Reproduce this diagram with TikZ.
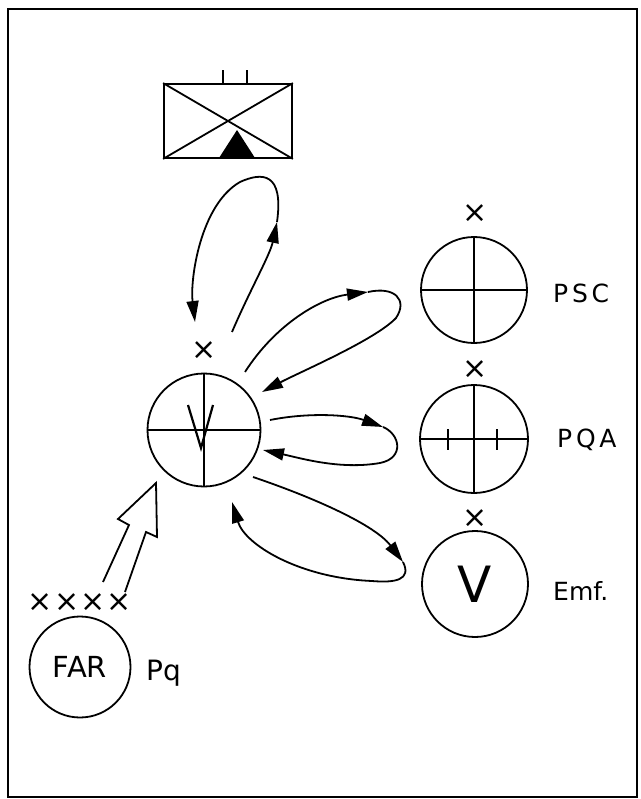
\documentclass[tikz,border=0pt]{standalone}
\usepackage{fontspec}
\setmainfont{DejaVu Sans}
\usetikzlibrary{arrows.meta}
\begin{document}
\begin{tikzpicture}[x=1pt,y=-1pt,
  ln/.style={line width=1.8pt},
  ring/.style={circle,draw,line width=1.8pt,inner sep=0pt},
  tip/.style={line width=1.8pt,-{Triangle[length=21pt,width=12pt]}},
  xmark/.style={font=\fontsize{30}{30}\selectfont,inner sep=0pt},
  lbl/.style={font=\fontsize{25}{25}\selectfont\addfontfeature{LetterSpace=15},inner sep=0pt,anchor=west}
]
\useasboundingbox (0,0) rectangle (640,799);
\draw[line width=2.2pt] (8,9) rectangle (637,797);

% top box
\node[draw,line width=1.8pt,minimum width=128pt,minimum height=74pt,inner sep=0pt] (box) at (228,121) {};
\draw[ln] (box.north west) -- (box.south east);
\draw[ln] (box.south west) -- (box.north east);
\fill (219,158) -- (237,130) -- (255,158) -- cycle;
\draw[ln] (223,84) -- (223,70);
\draw[ln] (247,84) -- (247,70);

% central circle
\node[ring,minimum size=113pt] (c) at (204,430) {};
\draw[ln] (c.north) -- (c.south);
\draw[ln] (c.west) -- (c.east);
\draw[line width=2.2pt] (188,405) -- (201,448) -- (213,405);
\node[xmark] (xc) at (204,351) {×};

% PSC
\node[ring,minimum size=106pt] (psc) at (474,290) {};
\draw[ln] (psc.north) -- (psc.south);
\draw[ln] (psc.west) -- (psc.east);
\node[xmark] (xpsc) at (475,214) {×};
\node[lbl] (lpsc) at (553,293) {PSC};

% PQA
\node[ring,minimum size=108pt] (pqa) at (474,439) {};
\draw[ln] (pqa.north) -- (pqa.south);
\draw[ln] (pqa.west) -- (pqa.east);
\draw[line width=2.4pt] (448,429) -- (448,450);
\draw[line width=2.4pt] (497,429) -- (497,450);
\node[xmark] (xpqa) at (475,370) {×};
\node[lbl] (lpqa) at (557,440) {PQA};

% Emf
\node[ring,minimum size=106pt,font=\fontsize{50}{50}\selectfont] (emf) at (475,584) {V};
\node[xmark] (xemf) at (475,519) {×};
\node[lbl,font=\fontsize{25}{25}\selectfont] (lemf) at (553,591) {Emf.};

% FAR
\node[ring,minimum size=101pt,font=\fontsize{29}{29}\selectfont] (far) at (80,667) {FAR};
\node[lbl,font=\fontsize{28}{28}\selectfont] (lpq) at (146,673) {Pq};
\foreach \i/\x in {1/40,2/67,3/93,4/119} \node[xmark] (xf\i) at (\x,603) {×};

% hollow arrow
\draw[ln,line join=miter] (103,582) -- (129,525) -- (118,519) -- (156,483) -- (157,537) -- (146,532) -- (125,592);

% top loop
\coordinate (t0) at (232,332);
\coordinate (t1) at (277,222);
\coordinate (t2) at (195,322);
\draw[tip] (t0) .. controls (250,290) and (270,255) .. (t1);
\draw[tip] (t1) .. controls (284,172) and (262,172) .. (240,182) .. controls (200,205) and (190,280) .. (t2);

% loop 1 (PSC)
\coordinate (a0) at (245,372);
\coordinate (a1) at (368,292);
\coordinate (a2) at (262,392);
\draw[tip] (a0) .. controls (275,325) and (320,298) .. (a1);
\draw[tip] (a1) .. controls (395,286) and (408,300) .. (396,318) .. controls (375,340) and (300,372) .. (a2);

% loop 2 (PQA)
\coordinate (b0) at (270,420);
\coordinate (b1) at (383,427);
\coordinate (b2) at (263,450);
\draw[tip] (b0) .. controls (310,412) and (350,415) .. (b1);
\draw[tip] (b1) .. controls (400,434) and (405,458) .. (380,463) .. controls (340,470) and (300,458) .. (b2);

% loop 3 (Emf)
\coordinate (d0) at (253,477);
\coordinate (d1) at (403,562);
\coordinate (d2) at (232,502);
\draw[tip] (d0) .. controls (315,498) and (375,525) .. (d1);
\draw[tip] (d1) .. controls (412,580) and (395,583) .. (372,581) .. controls (300,578) and (245,545) .. (d2);
\end{tikzpicture}
\end{document}
